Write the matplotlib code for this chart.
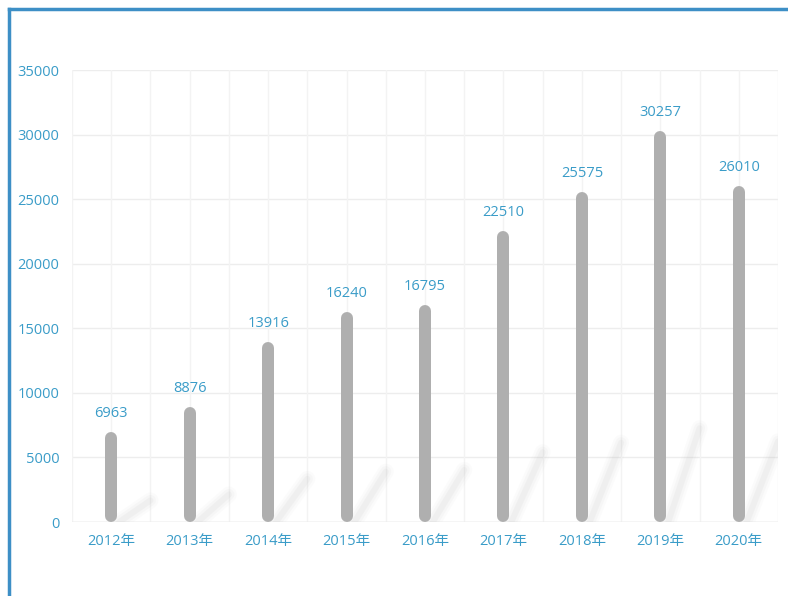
import matplotlib
matplotlib.use("Agg")
import matplotlib.pyplot as plt
from matplotlib.lines import Line2D
import numpy as np

plt.rcParams['font.family'] = ['Open Sans', 'Noto Sans CJK SC', 'DejaVu Sans']

years = ['2012年', '2013年', '2014年', '2015年', '2016年', '2017年', '2018年', '2019年', '2020年']
values = [6963, 8876, 13916, 16240, 16795, 22510, 25575, 30257, 26010]
y_ticks = [0, 5000, 10000, 15000, 20000, 25000, 30000, 35000]

W, H = 788, 596
fig = plt.figure(figsize=(W / 100, H / 100), dpi=100)
fig.patch.set_facecolor('white')

L, R, T, B = 72, 778, 70, 522
ax = fig.add_axes([L / W, 1 - B / H, (R - L) / W, (B - T) / H])
ax.set_xlim(-0.5, len(years) - 0.5)
ax.set_ylim(0, 35000)

txt_c = '#3a9cc8'
fs = 10.5
# grid
for yt in y_ticks:
    ax.axhline(yt, color='#ededed', lw=1, zorder=0)
for i in range(len(years) * 2 + 1):
    ax.axvline(-0.5 + i * 0.5, color='#f3f3f3', lw=1, zorder=0)
ax.axhline(0, color='#e0e0e0', lw=1, zorder=1)

for s in ax.spines.values():
    s.set_visible(False)

ax.set_yticks(y_ticks)
ax.set_yticklabels([str(v) for v in y_ticks], color=txt_c, fontsize=fs)
ax.set_xticks(range(len(years)))
ax.set_xticklabels(years, color=txt_c, fontsize=fs)
ax.tick_params(axis='y', length=0, pad=9)
ax.tick_params(axis='x', length=0, pad=9)

px_per_unit = (B - T) / 35000.0
bar_w_px = 12
r_units = (bar_w_px / 2) / px_per_unit
lw_pt = bar_w_px * 72 / 100

# shadows
for i, v in enumerate(values):
    x0, y0 = i + 0.1, 0
    x1, y1 = i + 0.5, v * 0.24
    for w, a in [(16, 0.035), (11, 0.05), (6, 0.07)]:
        ax.plot([x0, x1], [y0, y1], color='#a0a0a0', lw=w * 0.72, alpha=a,
                solid_capstyle='round', zorder=1, clip_on=True)

# bars
for i, v in enumerate(values):
    ax.plot([i, i], [r_units, v - r_units], color='#afafaf', lw=lw_pt,
            solid_capstyle='round', zorder=3)
    ax.annotate(str(v), (i, v), xytext=(0, 8), textcoords='offset points',
                ha='center', va='bottom', color=txt_c, fontsize=fs)

# frame border
fig.add_artist(Line2D([9 / W, 9 / W], [0, 1 - 9 / H], transform=fig.transFigure,
                      color='#3d8fc6', lw=2.5))
fig.add_artist(Line2D([9 / W, 1], [1 - 9 / H, 1 - 9 / H], transform=fig.transFigure,
                      color='#3d8fc6', lw=2.5))

fig.savefig('out.png', dpi=100, facecolor='white')
